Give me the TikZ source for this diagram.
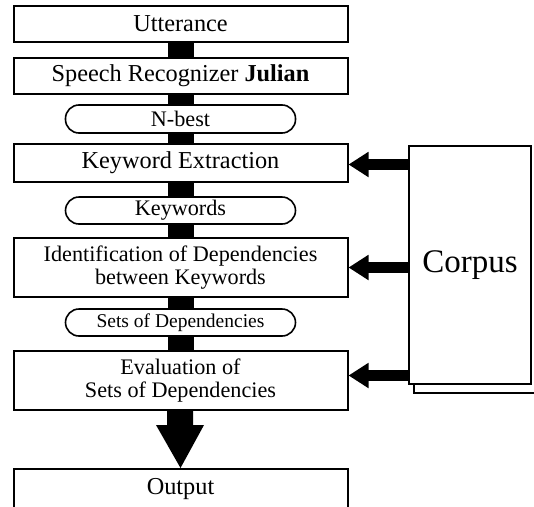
\documentclass[tikz,border=0pt]{standalone}
\usepackage{fontspec}
\setmainfont{Liberation Serif}
\usetikzlibrary{arrows.meta,calc,backgrounds}
\begin{document}
\begin{tikzpicture}[x=1pt,y=-1pt,
  box/.style={draw,line width=2pt,fill=white,minimum width=334pt,inner sep=0pt,align=center},
  pill/.style={draw,line width=1.6pt,fill=white,minimum width=230pt,inner sep=0pt,rounded corners=13.5pt,align=center},
  bar/.style={line width=26pt},
  feed/.style={line width=11pt,-{Triangle[length=20pt,width=24pt]}},
  big/.style={font=\fontsize{24.3}{23}\selectfont},
  mid/.style={font=\fontsize{22.2}{23}\selectfont},
  sml/.style={font=\fontsize{19.5}{21}\selectfont}]
\useasboundingbox (0,0) rectangle (534,506);
\clip (0,0) rectangle (534,506);
\node[box,minimum height=36pt,big] (utt) at (180.5,24) {Utterance};
\node[box,minimum height=36pt,big] (sp) at (180.5,76) {Speech Recognizer \textbf{Julian}};
\node[pill,minimum height=28pt,mid] (nb) at (180.5,119) {N-best};
\node[box,minimum height=38pt,big] (ke) at (180.5,163) {Keyword Extraction};
\node[pill,minimum height=27pt,mid] (kw) at (180.5,210.5) {Keywords};
\node[box,minimum height=59pt,mid] (id) at (180.5,267.5) {Identification of Dependencies\\between Keywords};
\node[pill,minimum height=27pt,sml] (sd) at (180.5,322.5) {Sets of Dependencies};
\node[box,minimum height=59pt,mid] (ev) at (180.5,380.5) {Evaluation of\\Sets of Dependencies};
\node[box,minimum height=40pt,big] (out) at (180.5,489) {Output};
% corpus with shadow sheet
\fill[white] (414,153) rectangle (545,393);
\draw[line width=2pt] (414,370) -- (414,393) -- (545,393);
\node[draw,line width=2pt,fill=white,minimum width=122pt,minimum height=238pt,inner sep=0pt,font=\fontsize{33}{34}\selectfont] (cor) at (470,265) {Corpus};
\begin{scope}[on background layer]
\draw[bar] (utt.south) -- (sp.north);
\draw[bar] (sp.south) -- (nb.north);
\draw[bar] (nb.south) -- (ke.north);
\draw[bar] (ke.south) -- (kw.north);
\draw[bar] (kw.south) -- (id.north);
\draw[bar] (id.south) -- (sd.north);
\draw[bar] (sd.south) -- (ev.north);
\end{scope}
\fill ($(ev.south)+(-13.5,0)$) -- ($(ev.south)+(-13.5,14)$) -- ($(ev.south)+(-24.5,14)$) -- (out.north) -- ($(ev.south)+(23.5,14)$) -- ($(ev.south)+(12.5,14)$) -- ($(ev.south)+(12.5,0)$) -- cycle;
\draw[feed] ([yshift=-1.5pt]cor.west |- ke.east) -- ([yshift=-1.5pt]ke.east);
\draw[feed] (cor.west |- id.east) -- (id.east);
\draw[feed] ([yshift=5pt]cor.west |- ev.east) -- ([yshift=5pt]ev.east);
\end{tikzpicture}
\end{document}
